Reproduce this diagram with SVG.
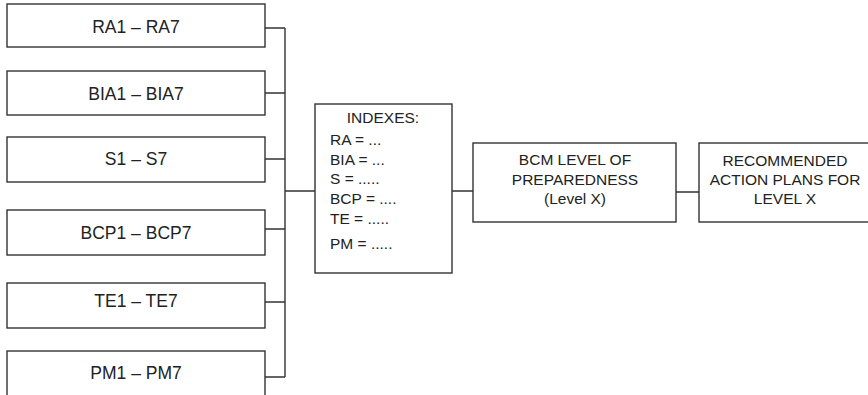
<svg xmlns="http://www.w3.org/2000/svg" width="868" height="395" viewBox="0 0 868 395">
<style>
rect{fill:#fff;stroke:#333;stroke-width:1.4}
.c{fill:none;stroke:#333;stroke-width:1.4}
text{font-family:"Liberation Sans",Arial,sans-serif;fill:#222}
.l{font-size:17.5px;text-anchor:middle}
.m{font-size:15.5px}
.mc{font-size:15.5px;text-anchor:middle}
</style>
<rect x="0" y="0" width="868" height="395" style="stroke:none"/>
<g id="connectors">
<path class="c" d="M265 28H285M265 93H285M265 159H285M265 229H285M265 302H285M265 377H285M285 28V377M285 191H315M452 191H473M676 192H699"/>
</g>
<g id="ra"><rect x="7" y="4" width="258" height="43"/><text class="l" x="136" y="33">RA1 – RA7</text></g>
<g id="bia"><rect x="7" y="71" width="258" height="44"/><text class="l" x="136" y="100">BIA1 – BIA7</text></g>
<g id="s"><rect x="7" y="137" width="258" height="45"/><text class="l" x="136" y="165">S1 – S7</text></g>
<g id="bcp"><rect x="7" y="210" width="258" height="45"/><text class="l" x="136" y="239">BCP1 – BCP7</text></g>
<g id="te"><rect x="7" y="283" width="258" height="45"/><text class="l" x="136" y="307">TE1 – TE7</text></g>
<g id="pm"><rect x="7" y="351" width="258" height="46"/><text class="l" x="136" y="379">PM1 – PM7</text></g>
<g id="indexes"><rect x="315" y="104" width="137" height="169"/>
<text class="mc" x="383" y="123">INDEXES:</text>
<text class="m" x="330" y="145">RA = ...</text>
<text class="m" x="330" y="165">BIA = ...</text>
<text class="m" x="330" y="184">S = .....</text>
<text class="m" x="330" y="204">BCP = ....</text>
<text class="m" x="330" y="224">TE = .....</text>
<text class="m" x="330" y="249">PM = .....</text>
</g>
<g id="bcm"><rect x="473" y="143" width="203" height="79"/>
<text class="mc" x="575" y="165">BCM LEVEL OF</text>
<text class="mc" x="575" y="185">PREPAREDNESS</text>
<text class="mc" x="575" y="204">(Level X)</text>
</g>
<g id="rec"><rect x="699" y="143" width="175" height="79"/>
<text class="mc" x="785" y="166">RECOMMENDED</text>
<text class="mc" x="785" y="185">ACTION PLANS FOR</text>
<text class="mc" x="785" y="204">LEVEL X</text>
</g>
</svg>
